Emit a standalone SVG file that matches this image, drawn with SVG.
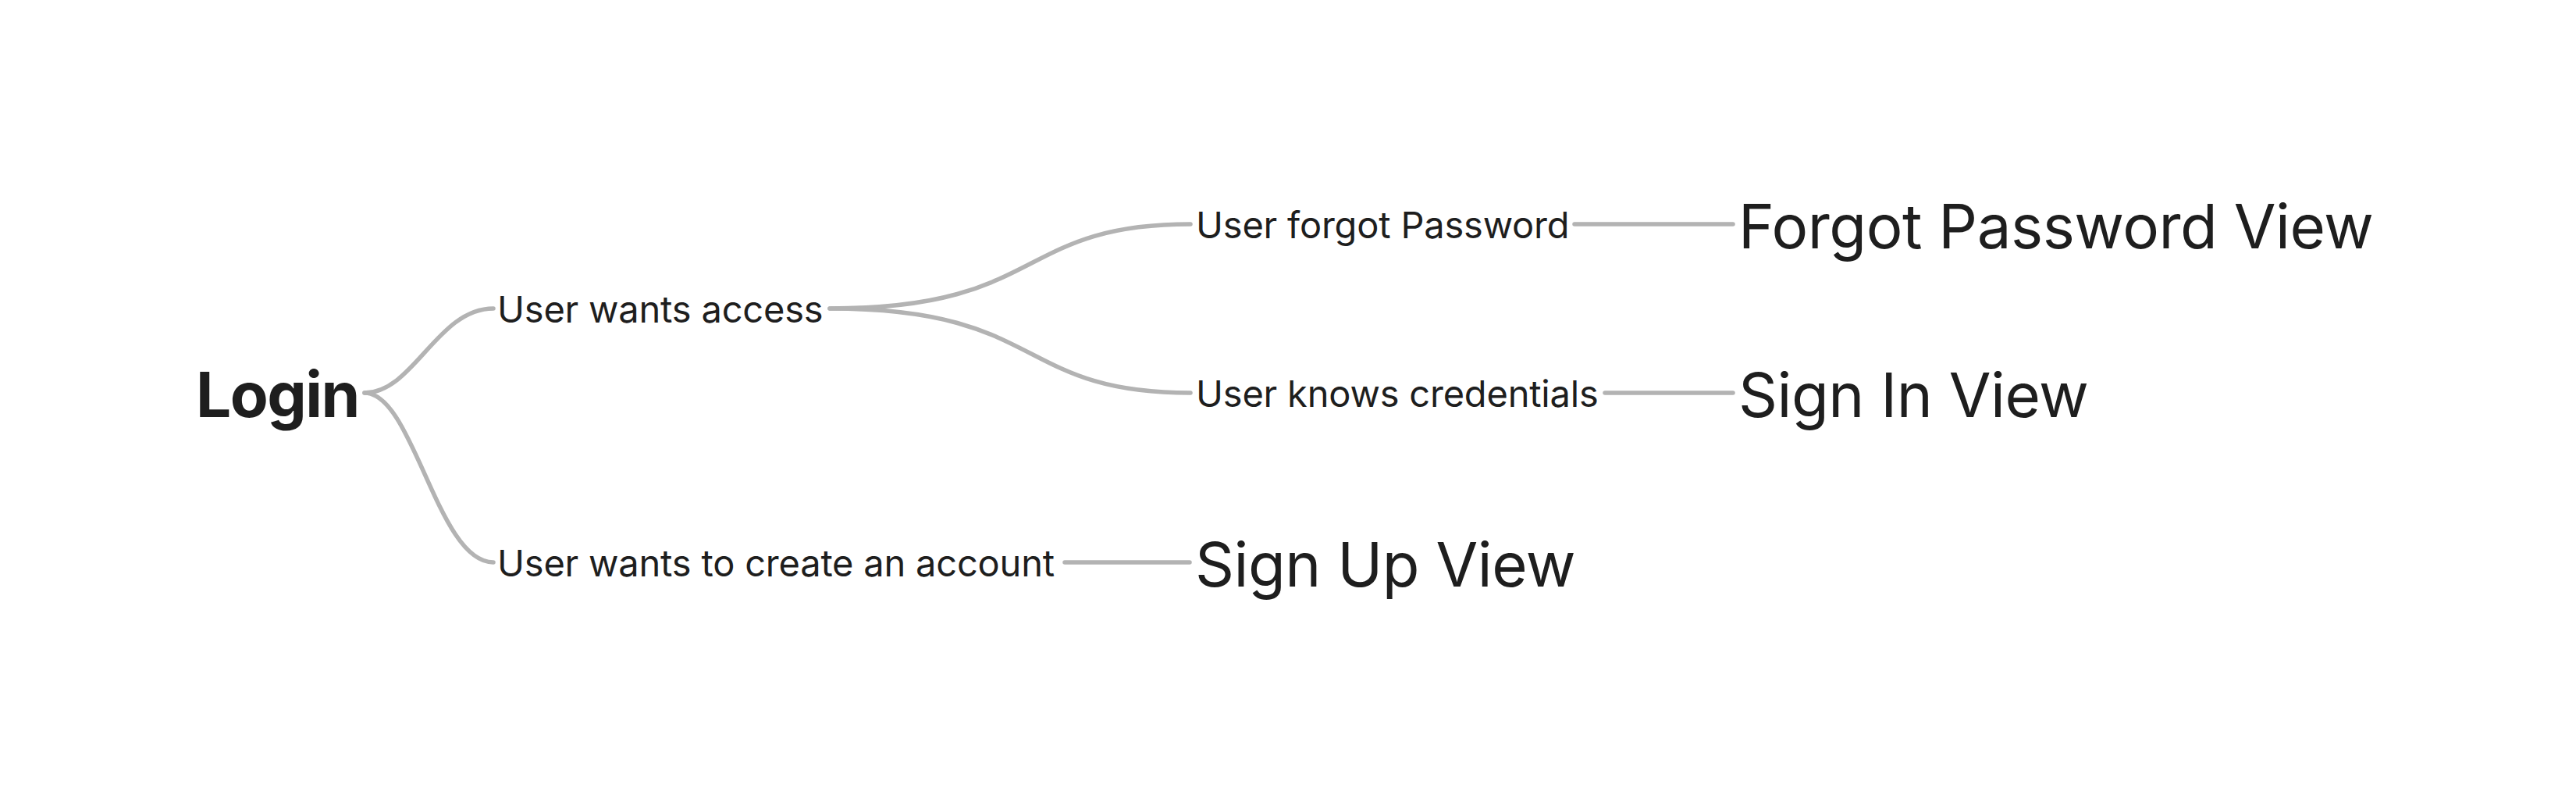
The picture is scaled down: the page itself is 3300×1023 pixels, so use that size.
<svg xmlns="http://www.w3.org/2000/svg" width="3300" height="1023" viewBox="0 0 3300 1023">
<style>
.bg{fill:#ffffff}
.t{font-family:Inter,"Noto Sans","Liberation Sans",sans-serif;fill:#1e1e1e}
.root{font-size:80px;font-weight:700;letter-spacing:-1.5px}
.mid{font-size:47px;font-weight:400;letter-spacing:-0.2px}
.leaf{font-size:78px;font-weight:400;letter-spacing:-0.5px}
.c{fill:none;stroke:#b3b3b3;stroke-width:5.5;stroke-linecap:round}
</style>
<rect class="bg" x="0" y="0" width="3300" height="1023"/>
<g id="connectors">
<path class="c" d="M467,503 C530,503 560,395 632,395"/>
<path class="c" d="M467,503 C530,503 560,720 632,720"/>
<path class="c" d="M1063,395 C1340,395 1300,287 1525,287"/>
<path class="c" d="M1063,395 C1340,395 1300,503 1525,503"/>
<path class="c" d="M2017,287 L2220,287"/>
<path class="c" d="M2056,503 L2220,503"/>
<path class="c" d="M1364,720 L1524,720"/>
</g>
<g id="login"><text class="t root" x="251" y="534">Login</text></g>
<g id="user-wants-access"><text class="t mid" x="637" y="413">User wants access</text></g>
<g id="user-wants-create"><text class="t mid" x="637" y="738">User wants to create an account</text></g>
<g id="user-forgot-password"><text class="t mid" x="1532" y="305">User forgot Password</text></g>
<g id="user-knows-credentials"><text class="t mid" x="1532" y="521">User knows credentials</text></g>
<g id="forgot-password-view"><text class="t leaf" x="2227" y="318">Forgot Password View</text></g>
<g id="sign-in-view"><text class="t leaf" x="2227" y="534">Sign In View</text></g>
<g id="sign-up-view"><text class="t leaf" x="1531" y="751">Sign Up View</text></g>
</svg>
